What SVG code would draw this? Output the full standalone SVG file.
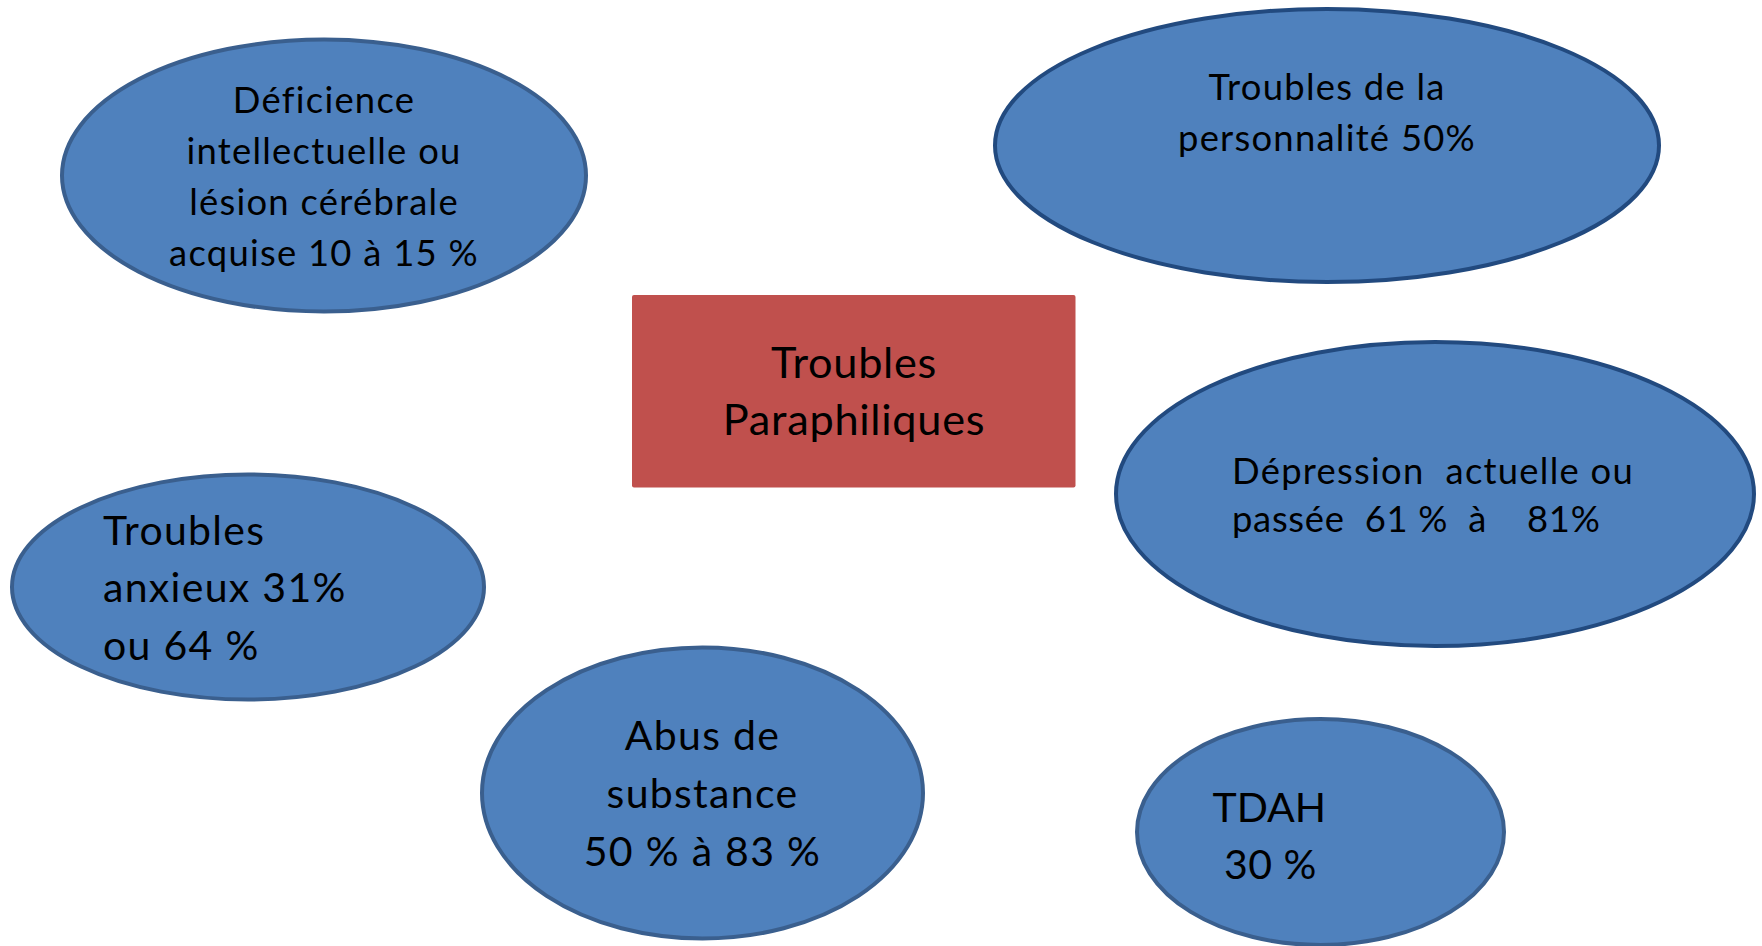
<svg xmlns="http://www.w3.org/2000/svg" width="1762" height="946" viewBox="0 0 1762 946">
<style>
.node{fill:#4F81BD;stroke:#3A5F8E;stroke-width:4}
.dark{stroke:#224A7F}
.t{font-family:Lato,"Open Sans","Liberation Sans",sans-serif;fill:#000}
.s{font-size:36.4px;letter-spacing:1.25px}
.m{font-size:41px;letter-spacing:1.3px}
.l{font-size:43.3px;letter-spacing:0.7px}
.c{text-anchor:middle}
</style>
<rect width="1762" height="946" fill="#fff"/>
<g id="connectors"></g>
<g id="center">
<rect x="632" y="295" width="443.5" height="192.5" rx="2" fill="#C0504D"/>
<text class="t l c" x="854" y="378">Troubles</text>
<text class="t l c" x="854" y="435">Paraphiliques</text>
</g>
<g id="deficience">
<ellipse class="node" cx="324" cy="175.5" rx="262" ry="136"/>
<text class="t s c" x="324" y="113">Déficience</text>
<text class="t s c" x="324" y="164">intellectuelle ou</text>
<text class="t s c" x="324" y="215">lésion cérébrale</text>
<text class="t s c" x="324" y="266">acquise 10 à 15 %</text>
</g>
<g id="personnalite">
<ellipse class="node dark" cx="1327" cy="145.5" rx="332" ry="136.5"/>
<text class="t s c" x="1327" y="100">Troubles de la</text>
<text class="t s c" x="1327" y="151">personnalité 50%</text>
</g>
<g id="depression">
<ellipse class="node dark" cx="1435" cy="494" rx="319" ry="152"/>
<text class="t s" x="1232" y="483.5" xml:space="preserve">Dépression  actuelle ou</text>
<text class="t s" x="1232" y="532" xml:space="preserve" style="letter-spacing:0.7px">passée  61 %  à    81%</text>
</g>
<g id="anxieux">
<ellipse class="node" cx="248" cy="587" rx="236" ry="112.5"/>
<text class="t m" x="103" y="545">Troubles</text>
<text class="t m" x="103" y="601.5">anxieux 31%</text>
<text class="t m" x="103" y="659.5">ou 64 %</text>
</g>
<g id="abus">
<ellipse class="node" cx="702.5" cy="793" rx="220.5" ry="145.5"/>
<text class="t m c" x="702.5" y="750">Abus de</text>
<text class="t m c" x="702.5" y="808">substance</text>
<text class="t m c" x="702.5" y="866">50 % à 83 %</text>
</g>
<g id="tdah">
<ellipse class="node" cx="1320.5" cy="832" rx="183.5" ry="113"/>
<text class="t m" x="1212.5" y="822" style="letter-spacing:0">TDAH</text>
<text class="t m" x="1224" y="879" style="letter-spacing:0.5px">30 %</text>
</g>
</svg>
